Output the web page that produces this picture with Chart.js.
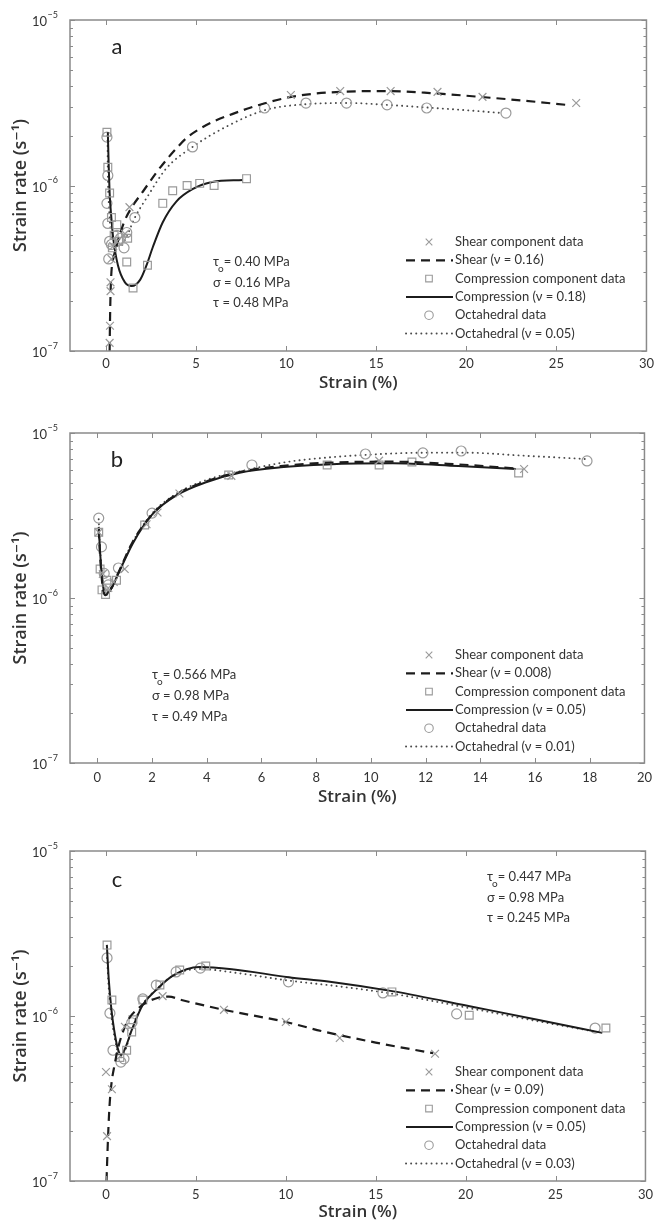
<!DOCTYPE html>
<html><head><meta charset="utf-8">
<script src="https://cdn.jsdelivr.net/npm/chart.js@4.4.0/dist/chart.umd.min.js"></script>
<style>
html,body{margin:0;padding:0;background:#fff;}
#wrap{position:relative;width:659px;height:1222px;overflow:hidden;}
canvas{position:absolute;left:0;}
</style></head><body>
<div id="wrap">
<canvas id="ca" width="659" height="400" style="top:0px;width:659px;height:400px"></canvas>
<canvas id="cb" width="659" height="410" style="top:400px;width:659px;height:410px"></canvas>
<canvas id="cc" width="659" height="412" style="top:810px;width:659px;height:412px"></canvas>
</div>
<script>
// ---------- tick values ----------
const xTicksAC = [0,5,10,15,20,25,30];
const xTicksB = [0,2,4,6,8,10,12,14,16,18,20];
const yDecades = [-7,-6,-5];

// ---------- panel a ----------
const aShearData = [[0.2,1.12e-7],[0.22,1.42e-7],[0.25,2.3e-7],[0.25,2.6e-7],[0.3,3.6e-7],[0.4,4.3e-7],[0.6,4.6e-7],[1.05,5.1e-7],[1.3,7.4e-7],[10.26,3.52e-6],[13.0,3.72e-6],[15.8,3.72e-6],[18.4,3.68e-6],[20.9,3.43e-6],[26.1,3.15e-6]];
const aShearFit = [[0.2,1.0e-7],[0.22,1.5e-7],[0.25,2.2e-7],[0.3,3.0e-7],[0.45,3.8e-7],[0.66,4.6e-7],[1.0,6.0e-7],[1.4,7.3e-7],[2.05,9.2e-7],[2.8,1.2e-6],[3.4,1.45e-6],[4.0,1.72e-6],[4.5,1.95e-6],[5.2,2.2e-6],[5.9,2.42e-6],[7.0,2.7e-6],[8.0,2.95e-6],[9.0,3.18e-6],[10.2,3.42e-6],[11.5,3.58e-6],[13,3.68e-6],[15.5,3.72e-6],[18,3.62e-6],[20.5,3.45e-6],[23,3.27e-6],[25.7,3.06e-6]];
const aCompData = [[0.05,2.1e-6],[0.1,1.29e-6],[0.2,9.0e-7],[0.3,6.4e-7],[0.6,5.8e-7],[0.45,5.0e-7],[0.7,4.6e-7],[0.35,4.2e-7],[1.2,4.8e-7],[1.15,3.45e-7],[1.5,2.4e-7],[2.3,3.3e-7],[3.15,7.8e-7],[3.7,9.3e-7],[4.5,1.0e-6],[5.2,1.03e-6],[6.0,1.0e-6],[7.8,1.1e-6]];
const aCompFit = [[0.1,2.1e-6],[0.15,1.3e-6],[0.2,9.0e-7],[0.3,6.3e-7],[0.4,4.8e-7],[0.66,3.3e-7],[1.05,2.6e-7],[1.43,2.47e-7],[1.9,2.7e-7],[2.25,3.3e-7],[2.6,4.25e-7],[3.15,6.0e-7],[3.9,8.0e-7],[4.8,9.5e-7],[5.9,1.05e-6],[7.6,1.08e-6]];
const aOctData = [[0.05,1.96e-6],[0.1,1.15e-6],[0.05,7.8e-7],[0.1,5.9e-7],[0.2,4.6e-7],[0.15,3.6e-7],[0.3,4.4e-7],[0.6,5.0e-7],[0.8,4.8e-7],[1.0,4.2e-7],[1.15,5.2e-7],[1.6,6.4e-7],[4.8,1.71e-6],[8.8,2.94e-6],[11.1,3.15e-6],[13.35,3.15e-6],[15.6,3.07e-6],[17.8,2.94e-6],[22.2,2.74e-6]];
const aOctFit = [[0.08,2.0e-6],[0.1,1.2e-6],[0.15,8.0e-7],[0.25,5.5e-7],[0.5,4.5e-7],[0.8,4.3e-7],[1.1,4.8e-7],[1.6,6.4e-7],[2.25,8.4e-7],[3.35,1.27e-6],[4.8,1.71e-6],[6.65,2.26e-6],[8.8,2.85e-6],[11.1,3.1e-6],[13.5,3.15e-6],[15.6,3.07e-6],[18,2.95e-6],[20,2.85e-6],[21.8,2.75e-6]];
const aLegend = ['Shear component data','Shear (ν = 0.16)','Compression component data','Compression (ν = 0.18)','Octahedral data','Octahedral (ν = 0.05)'];
const aStress = ['0.40','0.16','0.48'];

// ---------- panel b ----------
const bShearData = [[0.05,2.5e-6],[0.2,1.4e-6],[0.4,1.15e-6],[0.6,1.25e-6],[1.0,1.5e-6],[1.8,2.8e-6],[2.2,3.3e-6],[3.0,4.3e-6],[4.9,5.5e-6],[10.3,6.8e-6],[15.6,6.05e-6]];
const bShearFit = [[0.05,2.6e-6],[0.1,1.8e-6],[0.2,1.15e-6],[0.3,1.04e-6],[0.45,1.1e-6],[0.83,1.5e-6],[1.3,2.2e-6],[2.0,3.2e-6],[2.9,4.25e-6],[4.0,5.1e-6],[5.2,5.8e-6],[6.7,6.3e-6],[8.4,6.6e-6],[10.8,6.7e-6],[13.2,6.45e-6],[15.3,6.1e-6]];
const bCompData = [[0.05,2.5e-6],[0.1,1.5e-6],[0.17,1.12e-6],[0.3,1.05e-6],[0.35,1.28e-6],[0.7,1.28e-6],[1.73,2.77e-6],[4.8,5.56e-6],[8.4,6.4e-6],[10.3,6.4e-6],[11.5,6.67e-6],[15.4,5.73e-6]];
const bCompFit = [[0.05,2.7e-6],[0.1,1.9e-6],[0.2,1.2e-6],[0.3,1.06e-6],[0.45,1.1e-6],[0.83,1.48e-6],[1.3,2.15e-6],[2.0,3.2e-6],[2.9,4.2e-6],[4.0,5.05e-6],[5.2,5.75e-6],[6.7,6.2e-6],[8.4,6.45e-6],[10.8,6.55e-6],[13.2,6.3e-6],[15.3,6.05e-6]];
const bOctData = [[0.05,3.05e-6],[0.15,2.04e-6],[0.25,1.41e-6],[0.4,1.2e-6],[0.77,1.52e-6],[2.0,3.27e-6],[5.65,6.4e-6],[9.8,7.46e-6],[11.9,7.57e-6],[13.3,7.78e-6],[17.9,6.77e-6]];
const bOctFit = [[0.05,3.0e-6],[0.1,2.0e-6],[0.2,1.25e-6],[0.3,1.08e-6],[0.45,1.12e-6],[0.83,1.5e-6],[1.3,2.2e-6],[2.0,3.25e-6],[2.9,4.3e-6],[4.0,5.2e-6],[5.5,6.0e-6],[7.0,6.7e-6],[8.4,7.1e-6],[10,7.4e-6],[12,7.6e-6],[13.5,7.6e-6],[15.5,7.3e-6],[17.9,6.95e-6]];
const bLegend = ['Shear component data','Shear (ν = 0.008)','Compression component data','Compression (ν = 0.05)','Octahedral data','Octahedral (ν = 0.01)'];
const bStress = ['0.566','0.98','0.49'];

// ---------- panel c ----------
const cShearData = [[0.0,4.58e-7],[0.33,3.6e-7],[0.06,1.87e-7],[1.05,8.6e-7],[3.15,1.32e-6],[6.56,1.09e-6],[10.0,9.2e-7],[13.0,7.36e-7],[18.3,5.9e-7]];
const cShearFit = [[0.03,1.0e-7],[0.12,1.9e-7],[0.22,3.1e-7],[0.5,5.2e-7],[1.05,8.6e-7],[1.87,1.13e-6],[2.9,1.29e-6],[3.5,1.31e-6],[4.2,1.25e-6],[6.56,1.09e-6],[10,9.2e-7],[12,8.1e-7],[15,6.9e-7],[18.2,5.95e-7]];
const cCompData = [[0.06,2.69e-6],[0.33,1.25e-6],[0.77,5.6e-7],[1.15,6.2e-7],[1.43,8.0e-7],[1.5,9.5e-7],[2.05,1.25e-6],[3.0,1.54e-6],[4.1,1.9e-6],[5.55,2.01e-6],[15.9,1.4e-6],[20.2,1.01e-6],[27.8,8.45e-7]];
const cCompFit = [[0.05,2.7e-6],[0.15,1.7e-6],[0.3,1.1e-6],[0.45,8.3e-7],[0.65,6.4e-7],[0.85,5.8e-7],[1.1,6.5e-7],[1.43,8.2e-7],[2.05,1.17e-6],[2.8,1.44e-6],[3.7,1.75e-6],[5.2,1.98e-6],[7.0,1.92e-6],[10.15,1.72e-6],[12.35,1.62e-6],[16,1.41e-6],[20.5,1.13e-6],[24,9.5e-7],[27.6,7.9e-7]];
const cOctData = [[0.06,2.25e-6],[0.22,1.04e-6],[0.39,6.2e-7],[0.83,5.26e-7],[1.0,5.5e-7],[1.43,9.1e-7],[2.05,1.27e-6],[2.8,1.54e-6],[3.9,1.85e-6],[5.25,1.95e-6],[10.15,1.61e-6],[15.4,1.38e-6],[19.5,1.03e-6],[27.2,8.45e-7]];
const cOctFit = [[0.06,2.25e-6],[0.15,1.5e-6],[0.3,1.0e-6],[0.5,7.2e-7],[0.8,5.6e-7],[1.1,6.3e-7],[1.43,8.3e-7],[2.05,1.18e-6],[2.8,1.45e-6],[3.7,1.75e-6],[5.2,1.93e-6],[7,1.84e-6],[10.15,1.64e-6],[13,1.51e-6],[16,1.36e-6],[20.5,1.1e-6],[24,9.3e-7],[27.6,7.9e-7]];
const cLegend = ['Shear component data','Shear (ν = 0.09)','Compression component data','Compression (ν = 0.05)','Octahedral data','Octahedral (ν = 0.03)'];
const cStress = ['0.447','0.98','0.245'];

// ---------- styling ----------
const FONT = "Lato, 'Open Sans', 'DejaVu Sans', sans-serif";
const TFONT = "'Open Sans', 'DejaVu Sans', sans-serif";
const MARK = '#9a9a9a', AXC = '#8a8a8a', TXT = '#333333', LINE = '#1c1c1c';

const yTickVals = [];
yDecades.forEach((d, i) => {
  if (i < yDecades.length - 1) { for (let m = 1; m <= 9; m++) yTickVals.push(Number(m + 'e' + d)); }
  else yTickVals.push(Number('1e' + d));
});
function isDecade(v){ const l = Math.log10(v); return Math.abs(l - Math.round(l)) < 1e-9; }
function pts(arr){ return arr.map(p => ({x: p[0], y: p[1]})); }

function datasets(labels, sd, sf, cd, cf, od, of) {
  const mk = (lab, d, style, r) => ({label: lab, data: pts(d), showLine: false, pointStyle: style, pointRadius: r,
    pointBorderColor: MARK, pointBackgroundColor: 'rgba(0,0,0,0)', pointBorderWidth: 1.2, borderColor: MARK, backgroundColor: 'rgba(0,0,0,0)'});
  const ln = (lab, d, dash, w, col, cap) => ({label: lab, data: pts(d), showLine: true, pointRadius: 0, borderColor: col,
    borderWidth: w, borderDash: dash, borderCapStyle: cap, cubicInterpolationMode: 'monotone', fill: false, backgroundColor: 'rgba(0,0,0,0)'});
  return [
    mk(labels[0], sd, 'crossRot', 5.5),
    ln(labels[1], sf, [9, 6], 2.2, LINE, 'butt'),
    mk(labels[2], cd, 'rect', 5.5),
    ln(labels[3], cf, [], 2, LINE, 'butt'),
    mk(labels[4], od, 'circle', 5),
    ln(labels[5], of, [0.1, 5], 1.9, '#4a4a4a', 'round')
  ];
}

const framePlugin = {
  id: 'frame',
  afterDatasetsDraw(chart) {
    const {ctx, chartArea: a, scales: {x, y}} = chart;
    const P = chart.options.plugins.frame;
    ctx.save();
    ctx.strokeStyle = AXC; ctx.lineWidth = 1.5;
    ctx.strokeRect(a.left, a.top, a.right - a.left, a.bottom - a.top);
    ctx.lineWidth = 1;
    P.xTicks.forEach(v => {
      const px = Math.round(x.getPixelForValue(v)) + 0.5;
      ctx.beginPath(); ctx.moveTo(px, a.bottom); ctx.lineTo(px, a.bottom - 5);
      ctx.moveTo(px, a.top); ctx.lineTo(px, a.top + 5); ctx.stroke();
    });
    yTickVals.forEach(v => {
      const py = Math.round(y.getPixelForValue(v)) + 0.5;
      const len = isDecade(v) ? 5 : 3;
      ctx.beginPath(); ctx.moveTo(a.left, py); ctx.lineTo(a.left + len, py);
      ctx.moveTo(a.right, py); ctx.lineTo(a.right - len, py); ctx.stroke();
    });
    // y tick labels 10^n with superscript exponent, placed by the y scale
    ctx.fillStyle = TXT; ctx.textBaseline = 'middle';
    yTickVals.filter(isDecade).forEach(v => {
      const py = y.getPixelForValue(v);
      const e = String(Math.round(Math.log10(v))).replace('-', '−');
      ctx.font = '9px ' + FONT; ctx.textAlign = 'right';
      const we = ctx.measureText(e).width;
      ctx.fillText(e, a.left - 12, py - 5);
      ctx.font = '13px ' + FONT;
      ctx.fillText('10', a.left - 12 - we - 0.5, py + 2);
    });
    ctx.restore();
  },
  afterDraw(chart) {
    const {ctx} = chart;
    const P = chart.options.plugins.frame;
    ctx.save();
    // panel letter
    ctx.fillStyle = '#222'; ctx.font = '22px ' + FONT; ctx.textAlign = 'center'; ctx.textBaseline = 'middle';
    ctx.fillText(P.letter, P.letterPos[0], P.letterPos[1]);
    // legend
    ctx.textAlign = 'left'; ctx.font = '13px ' + FONT;
    chart.data.datasets.forEach((ds, i) => {
      const yy = P.legendY + i * P.legendStep;
      if (ds.showLine) {
        ctx.save();
        ctx.strokeStyle = ds.borderColor; ctx.lineWidth = ds.borderWidth; ctx.setLineDash(ds.borderDash || []);
        ctx.lineCap = ds.borderCapStyle || 'butt';
        ctx.beginPath(); ctx.moveTo(P.legendX - 48, yy); ctx.lineTo(P.legendX - 1, yy); ctx.stroke();
        ctx.restore();
      } else {
        ctx.save();
        ctx.strokeStyle = MARK; ctx.fillStyle = 'rgba(0,0,0,0)'; ctx.lineWidth = 1.1;
        Chart.helpers.drawPoint(ctx, {pointStyle: ds.pointStyle, radius: ds.pointRadius * 0.85, borderWidth: 1.1, rotation: 0}, P.legendX - 25, yy);
        ctx.restore();
      }
      ctx.fillStyle = TXT;
      ctx.fillText(ds.label, P.legendX + 1, yy);
    });
    // stress annotation
    const ax = P.annot[0], ay = P.annot[1], st = P.annotStep;
    ctx.font = '13px ' + FONT; ctx.fillStyle = TXT; ctx.textBaseline = 'middle';
    ctx.fillText('τ', ax, ay);
    const wt = ctx.measureText('τ').width;
    ctx.font = '10px ' + FONT; ctx.fillText('o', ax + wt - 1, ay + 7);
    const wo = ctx.measureText('o').width;
    ctx.font = '13px ' + FONT;
    ctx.fillText('= ' + P.stress[0] + ' MPa', ax + wt + wo - 1, ay);
    ctx.fillText('σ = ' + P.stress[1] + ' MPa', ax, ay + st);
    ctx.fillText('τ = ' + P.stress[2] + ' MPa', ax, ay + 2 * st);
    ctx.restore();
  }
};

function makeChart(id, o) {
  new Chart(document.getElementById(id), {
    type: 'scatter',
    data: {datasets: datasets(o.legend, ...o.series)},
    plugins: [framePlugin],
    options: {
      responsive: false, animation: false, events: [], devicePixelRatio: 1,
      layout: {padding: {left: 0, right: 10, top: o.top, bottom: 0}},
      plugins: {
        legend: {display: false}, tooltip: {enabled: false},
        frame: {xTicks: o.xTicks, letter: o.letter, letterPos: o.letterPos, legendX: o.legendX, legendY: o.legendY,
          legendStep: o.legendStep, annot: o.annot, annotStep: o.annotStep, stress: o.stress}
      },
      scales: {
        x: {
          type: 'linear', min: o.xMin, max: o.xMax,
          afterBuildTicks: s => { s.ticks = o.xTicks.map(v => ({value: v})); },
          afterFit: s => { s.height = o.xAxisH; },
          grid: {display: false, drawTicks: false}, border: {display: false},
          ticks: {autoSkip: false, maxRotation: 0, padding: o.tickPad, color: TXT, font: {family: FONT, size: 13}},
          title: {display: true, text: 'Strain (%)', color: TXT, font: {family: TFONT, size: 17, weight: '600'}, padding: {top: 0, bottom: o.titlePad}}
        },
        y: {
          type: 'logarithmic', min: 1e-7, max: 1e-5,
          afterBuildTicks: s => { s.ticks = yTickVals.map(v => ({value: v})); },
          afterFit: s => { s.width = 70; },
          grid: {display: false, drawTicks: false}, border: {display: false},
          ticks: {autoSkip: false, padding: 12, color: TXT, font: {family: FONT, size: 13}, callback: () => ''},
          title: {display: true, text: 'Strain rate (s⁻¹)', color: TXT, font: {family: TFONT, size: 18, weight: '600'}, padding: {top: 10, bottom: 0}}
        }
      }
    }
  });
}

makeChart('ca', {legend: aLegend, series: [aShearData, aShearFit, aCompData, aCompFit, aOctData, aOctFit],
  top: 20, xAxisH: 49, tickPad: 5, titlePad: 7, xMin: -2, xMax: 30, xTicks: xTicksAC, letter: 'a', letterPos: [117, 47],
  legendX: 454, legendY: 242, legendStep: 18.3, annot: [213, 262], annotStep: 20.5, stress: aStress});
makeChart('cb', {legend: bLegend, series: [bShearData, bShearFit, bCompData, bCompFit, bOctData, bOctFit],
  top: 33, xAxisH: 47, tickPad: 7, titlePad: 3, xMin: -1, xMax: 20, xTicks: xTicksB, letter: 'b', letterPos: [117, 60],
  legendX: 454, legendY: 255, legendStep: 18.3, annot: [152, 275], annotStep: 21, stress: bStress});
makeChart('cc', {legend: cLegend, series: [cShearData, cShearFit, cCompData, cCompFit, cOctData, cOctFit],
  top: 41, xAxisH: 41, tickPad: 6, titlePad: 0, xMin: -2, xMax: 30, xTicks: xTicksAC, letter: 'c', letterPos: [117, 70],
  legendX: 454, legendY: 262, legendStep: 18.3, annot: [487, 67], annotStep: 20.5, stress: cStress});
</script>
</body></html>
